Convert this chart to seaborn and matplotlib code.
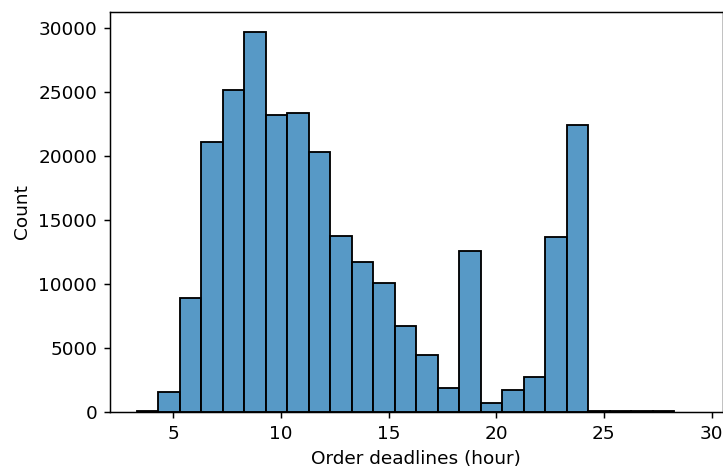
import numpy as np
import pandas as pd
import matplotlib
matplotlib.use("Agg")
import matplotlib.pyplot as plt
import seaborn as sns

# Histogram data (bin counts, 25 bins of ~1 hour)
bin_start = 3.29
bin_end = 28.27
counts = [80, 1560, 8860, 21050, 25130, 29700, 23180, 23370, 20310, 13750,
          11720, 10030, 6720, 4430, 1830, 12580, 700, 1700, 2690, 13650,
          22380, 60, 40, 30, 20]
x_ticks = [5, 10, 15, 20, 25, 30]
y_ticks = [0, 5000, 10000, 15000, 20000, 25000, 30000]

edges = np.linspace(bin_start, bin_end, len(counts) + 1)
centers = (edges[:-1] + edges[1:]) / 2
df = pd.DataFrame({"hour": centers, "count": counts})

DPI = 133
W, H = 723, 473
fig = plt.figure(figsize=(W / DPI, H / DPI), dpi=DPI)
ax = fig.add_axes([110 / W, 61.3 / H, 612.5 / W, 400 / H])

sns.histplot(data=df, x="hour", weights="count", bins=list(edges), ax=ax)

ax.set_xlim(2.05, 30.51)
ax.set_ylim(0, 31250)
ax.set_xticks(x_ticks)
ax.set_yticks(y_ticks)
ax.set_xlabel("Order deadlines (hour)")
ax.set_ylabel("Count")

fig.savefig("out.png", dpi=DPI)
